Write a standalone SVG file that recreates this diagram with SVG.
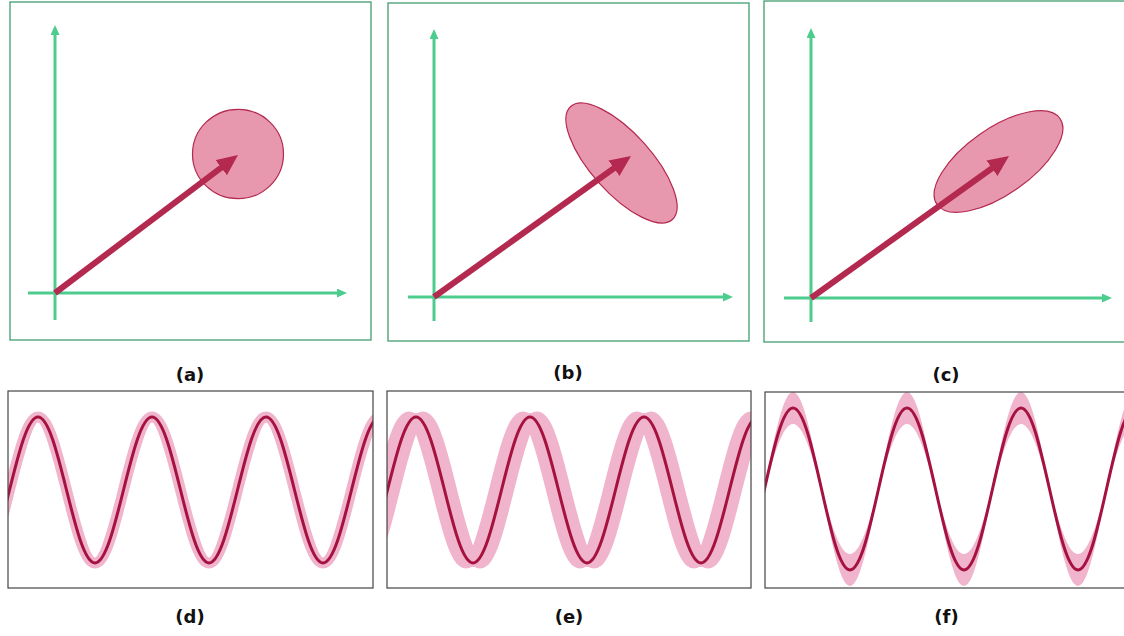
<svg xmlns="http://www.w3.org/2000/svg" xmlns:xlink="http://www.w3.org/1999/xlink" width="1124" height="636" viewBox="0 0 1124 636">
<style>
.frame{fill:none;stroke:#4fa47a;stroke-width:1.4}
.pframe{fill:none;stroke:#444;stroke-width:1.2}
.axis{stroke:#4ccd8d;stroke-width:3;fill:none;marker-end:url(#ah)}
.vec{stroke:#b3294f;stroke-width:6;fill:none;marker-end:url(#vh)}
.blob{fill:#e898ae;stroke:#b3294f;stroke-width:1.2}
.lbl{font-family:"DejaVu Sans",sans-serif;font-weight:bold;font-size:18px;fill:#111;text-anchor:middle}
.band{fill:none;stroke:#f0b4cc;stroke-linejoin:round}
.line{fill:none;stroke:#a5123f;stroke-width:3}
</style>
<defs>
<marker id="ah" markerUnits="userSpaceOnUse" markerWidth="10" markerHeight="9" refX="2" refY="4.5" orient="auto" viewBox="0 0 10 9"><path d="M0,0 L10,4.5 L0,9 z" fill="#4ccd8d"/></marker>
<marker id="vh" markerUnits="userSpaceOnUse" markerWidth="21" markerHeight="19" refX="3" refY="9.5" orient="auto" viewBox="0 0 21 19"><path d="M0,0 L21,9.5 L0,19 z" fill="#b3294f"/></marker>
<path id="s73" d="M0,0 c9.29,-37.4 18.19,-73 28.5,-73 c10.31,0 19.21,35.6 28.5,73 c9.29,37.4 18.19,73 28.5,73 c10.31,0 19.21,-35.6 28.5,-73 c9.29,-37.4 18.19,-73 28.5,-73 c10.31,0 19.21,35.6 28.5,73 c9.29,37.4 18.19,73 28.5,73 c10.31,0 19.21,-35.6 28.5,-73 c9.29,-37.4 18.19,-73 28.5,-73 c10.31,0 19.21,35.6 28.5,73 c9.29,37.4 18.19,73 28.5,73 c10.31,0 19.21,-35.6 28.5,-73 c9.29,-37.4 18.19,-73 28.5,-73 c10.31,0 19.21,35.6 28.5,73 c9.29,37.4 18.19,73 28.5,73 c10.31,0 19.21,-35.6 28.5,-73 c9.29,-37.4 18.19,-73 28.5,-73 c10.31,0 19.21,35.6 28.5,73 c9.29,37.4 18.19,73 28.5,73 c10.31,0 19.21,-35.6 28.5,-73"/>
<path id="s81" d="M0,0 c9.29,-41.5 18.19,-81 28.5,-81 c10.31,0 19.21,39.5 28.5,81 c9.29,41.5 18.19,81 28.5,81 c10.31,0 19.21,-39.5 28.5,-81 c9.29,-41.5 18.19,-81 28.5,-81 c10.31,0 19.21,39.5 28.5,81 c9.29,41.5 18.19,81 28.5,81 c10.31,0 19.21,-39.5 28.5,-81 c9.29,-41.5 18.19,-81 28.5,-81 c10.31,0 19.21,39.5 28.5,81 c9.29,41.5 18.19,81 28.5,81 c10.31,0 19.21,-39.5 28.5,-81 c9.29,-41.5 18.19,-81 28.5,-81 c10.31,0 19.21,39.5 28.5,81 c9.29,41.5 18.19,81 28.5,81 c10.31,0 19.21,-39.5 28.5,-81 c9.29,-41.5 18.19,-81 28.5,-81 c10.31,0 19.21,39.5 28.5,81 c9.29,41.5 18.19,81 28.5,81 c10.31,0 19.21,-39.5 28.5,-81"/>
<clipPath id="cd"><rect x="8" y="391" width="365" height="197"/></clipPath>
<clipPath id="ce"><rect x="387" y="391" width="364" height="197"/></clipPath>
<clipPath id="cf"><rect x="765" y="392" width="400" height="196"/></clipPath>
</defs>

<g id="panel-a">
<rect class="frame" x="10" y="2" width="361" height="338"/>
<line class="axis" x1="55" y1="320" x2="55" y2="33"/>
<line class="axis" x1="28" y1="293" x2="339" y2="293"/>
<ellipse class="blob" cx="238" cy="154" rx="45.5" ry="44.7"/>
<line class="vec" x1="55" y1="293" x2="223.6" y2="165.9"/>
<text class="lbl" x="190" y="381">(a)</text>
</g>

<g id="panel-b">
<rect class="frame" x="388" y="3" width="361" height="338"/>
<line class="axis" x1="434" y1="321" x2="434" y2="37"/>
<line class="axis" x1="408" y1="297" x2="725" y2="297"/>
<ellipse class="blob" cx="0" cy="0" rx="76" ry="30" transform="translate(621.5,163) rotate(48)"/>
<line class="vec" x1="434" y1="297" x2="616.4" y2="166.5"/>
<text class="lbl" x="568" y="379">(b)</text>
</g>

<g id="panel-c">
<rect class="frame" x="764" y="1" width="400" height="341"/>
<line class="axis" x1="811" y1="322" x2="811" y2="36"/>
<line class="axis" x1="784" y1="298" x2="1104" y2="298"/>
<ellipse class="blob" cx="0" cy="0" rx="75" ry="33" transform="translate(998.5,161.5) rotate(-35)"/>
<line class="vec" x1="811" y1="298" x2="994.4" y2="166.5"/>
<text class="lbl" x="946" y="381">(c)</text>
</g>

<g id="panel-d">
<g clip-path="url(#cd)">
<use xlink:href="#s73" href="#s73" class="band" stroke-width="11" x="-104.5" y="490"/>
<use xlink:href="#s73" href="#s73" class="line" x="-104.5" y="490"/>
</g>
<rect class="pframe" x="8" y="391" width="365" height="197"/>
<text class="lbl" x="190" y="623">(d)</text>
</g>

<g id="panel-e">
<g clip-path="url(#ce)">
<use xlink:href="#s73" href="#s73" class="band" stroke-width="11" x="266.5" y="490"/>
<use xlink:href="#s73" href="#s73" class="band" stroke-width="11" x="280.5" y="490"/>
<use xlink:href="#s73" href="#s73" class="band" stroke-width="8" x="273.5" y="490"/>
<use xlink:href="#s73" href="#s73" class="line" x="273.5" y="490"/>
</g>
<rect class="pframe" x="387" y="391" width="364" height="197"/>
<text class="lbl" x="569" y="623">(e)</text>
</g>

<g id="panel-f">
<g clip-path="url(#cf)">
<path fill="#f0b4cc" transform="translate(650.5,489)" d="M0,0 c9.29,-49.69 18.19,-97 28.5,-97 c10.31,0 19.21,47.31 28.5,97 c9.29,49.69 18.19,97 28.5,97 c10.31,0 19.21,-47.31 28.5,-97 c9.29,-49.69 18.19,-97 28.5,-97 c10.31,0 19.21,47.31 28.5,97 c9.29,49.69 18.19,97 28.5,97 c10.31,0 19.21,-47.31 28.5,-97 c9.29,-49.69 18.19,-97 28.5,-97 c10.31,0 19.21,47.31 28.5,97 c9.29,49.69 18.19,97 28.5,97 c10.31,0 19.21,-47.31 28.5,-97 c9.29,-49.69 18.19,-97 28.5,-97 c10.31,0 19.21,47.31 28.5,97 c9.29,49.69 18.19,97 28.5,97 c10.31,0 19.21,-47.31 28.5,-97 c9.29,-49.69 18.19,-97 28.5,-97 c10.31,0 19.21,47.31 28.5,97 c9.29,49.69 18.19,97 28.5,97 c10.31,0 19.21,-47.31 28.5,-97 c-9.29,33.3 -18.19,65 -28.5,65 c-10.31,0 -19.21,-31.7 -28.5,-65 c-9.29,-33.3 -18.19,-65 -28.5,-65 c-10.31,0 -19.21,31.7 -28.5,65 c-9.29,33.3 -18.19,65 -28.5,65 c-10.31,0 -19.21,-31.7 -28.5,-65 c-9.29,-33.3 -18.19,-65 -28.5,-65 c-10.31,0 -19.21,31.7 -28.5,65 c-9.29,33.3 -18.19,65 -28.5,65 c-10.31,0 -19.21,-31.7 -28.5,-65 c-9.29,-33.3 -18.19,-65 -28.5,-65 c-10.31,0 -19.21,31.7 -28.5,65 c-9.29,33.3 -18.19,65 -28.5,65 c-10.31,0 -19.21,-31.7 -28.5,-65 c-9.29,-33.3 -18.19,-65 -28.5,-65 c-10.31,0 -19.21,31.7 -28.5,65 c-9.29,33.3 -18.19,65 -28.5,65 c-10.31,0 -19.21,-31.7 -28.5,-65 c-9.29,-33.3 -18.19,-65 -28.5,-65 c-10.31,0 -19.21,31.7 -28.5,65 Z"/>
<use xlink:href="#s81" href="#s81" class="line" x="650.5" y="489"/>
</g>
<rect class="pframe" x="765" y="392" width="400" height="196"/>
<text class="lbl" x="946.5" y="623">(f)</text>
</g>
</svg>
